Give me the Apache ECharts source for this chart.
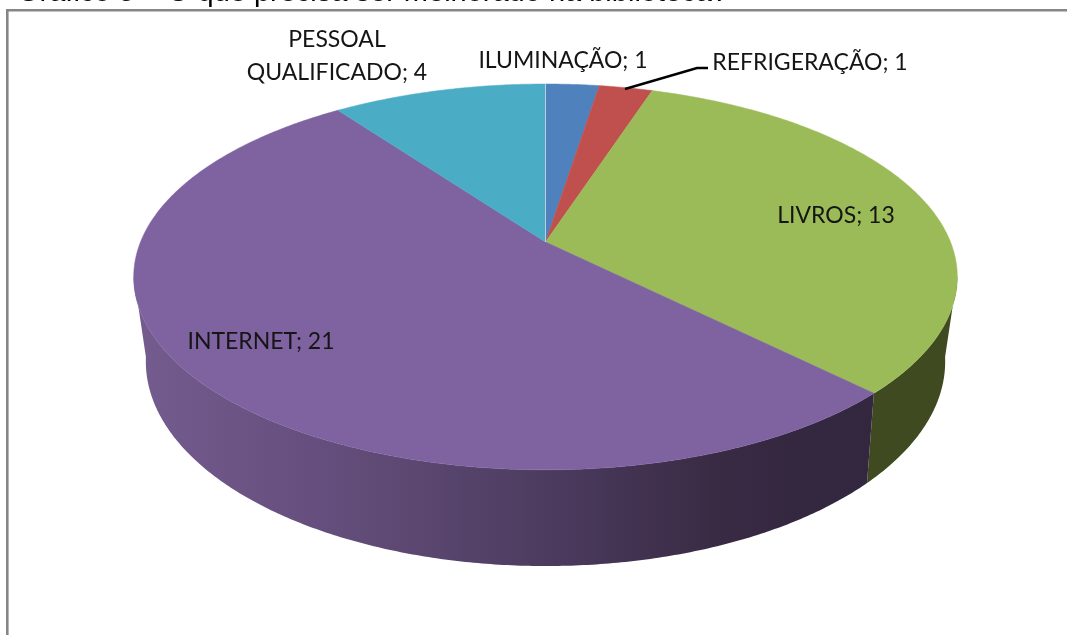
<!DOCTYPE html>
<html>
<head>
<meta charset="utf-8">
<style>
  html, body { margin: 0; padding: 0; background: #fff; }
  #chart { width: 1067px; height: 635px; }
</style>
<script src="https://cdn.jsdelivr.net/npm/echarts@6/dist/echarts.min.js"></script>
</head>
<body>
<div id="chart"></div>
<script>
// chart data
var categories = ["ILUMINAÇÃO", "REFRIGERAÇÃO", "LIVROS", "INTERNET", "PESSOAL\nQUALIFICADO"];
var values = [1, 1, 13, 21, 4];
var titleText = "Gráfico 5 – O que precisa ser melhorado na biblioteca?";

// slice colours: top face, then wall
var topColors = ["#4f81bd", "#c0504d", "#9bbb59", "#7f62a0", "#4bacc6"];
var wallColors = ["#2a4565", "#672a28", "#3f4a20", "#32273f", "#1f5c6c"];

// Perspective disc: top face and bottom face of the cylinder
var topDisc = { x: 545.5, y: 242, a: 186.6, b: 405, p: 0.181 };
var bottomDisc = { x: 545.5, y: 321.7, a: 196.7, b: 392, p: 0.195 };
var sideAngle = 100; // degrees, where the silhouette of the wall is

var labelPos = [[563, 61], [810, 63], [836, 216], [261, 342], [337, 56.5]];

var total = values.reduce(function (a, b) { return a + b; }, 0);
var sliceData = [];
var running = 0;
values.forEach(function (v, i) {
  sliceData.push([running, running + v, i]);
  running += v;
});

function project(disc, deg) {
  var t = deg * Math.PI / 180;
  var u = Math.sin(t), v = Math.cos(t);
  var w = 1 + disc.p * v;
  return [disc.x + disc.b * u / w, disc.y - disc.a * v / w];
}

function arc(disc, from, to) {
  var pts = [];
  var n = Math.max(2, Math.ceil(Math.abs(to - from) * 2));
  for (var i = 0; i <= n; i++) {
    pts.push(project(disc, from + (to - from) * i / n));
  }
  return pts;
}

// purple wall goes dark left to right
var purpleWall = new echarts.graphic.LinearGradient(134, 0, 960, 0, [
  { offset: 0, color: "#745d8e" },
  { offset: 0.2, color: "#675080" },
  { offset: 0.3, color: "#5f4a75" },
  { offset: 0.5, color: "#4c3b5f" },
  { offset: 0.7, color: "#3a2b45" },
  { offset: 0.8, color: "#342740" },
  { offset: 1, color: "#322840" }
], true);

function renderWall(params, api) {
  var from = api.value(0) / total * 360;
  var to = api.value(1) / total * 360;
  var i = api.value(2);
  // only the front of the wall shows
  var a = Math.max(from, sideAngle);
  var b = Math.min(to, 360 - sideAngle);
  if (a >= b) return null;
  var pts = arc(topDisc, a, b).concat(arc(bottomDisc, b, a));
  return {
    type: "polygon",
    shape: { points: pts },
    style: { fill: i === 3 ? purpleWall : wallColors[i] }
  };
}

function renderTop(params, api) {
  var from = api.value(0) / total * 360;
  var to = api.value(1) / total * 360;
  var i = api.value(2);
  var pts = [[topDisc.x, topDisc.y]].concat(arc(topDisc, from, to));
  var children = [
    {
      type: "polygon",
      shape: { points: pts },
      style: { fill: topColors[i], stroke: topColors[i], lineWidth: 0.5 }
    },
    {
      type: "text",
      z2: 10,
      x: labelPos[i][0],
      y: labelPos[i][1],
      style: {
        text: categories[i] + "; " + values[i],
        fill: "#151515",
        font: "23px Lato",
        lineHeight: 33,
        align: "center",
        verticalAlign: "middle"
      }
    }
  ];
  // thin light seam where the first slice starts
  if (i === 0) {
    children.splice(1, 0, {
      type: "polyline",
      z2: 5,
      shape: { points: [pts[0], pts[1]] },
      style: { stroke: "#b9cde6", lineWidth: 1, fill: "none" }
    });
  }
  return { type: "group", children: children };
}

var chart = echarts.init(document.getElementById("chart"), null, { renderer: "canvas" });

var option = {
  animation: false,
  backgroundColor: "#fff",
  graphic: [
    {
      type: "rect",
      silent: true,
      shape: { x: 7.3, y: 10.3, width: 1100, height: 660 },
      style: { fill: "#fff", stroke: "#868686", lineWidth: 2.6 },
      z: 0
    },
    {
      type: "text",
      x: 17,
      y: -22,
      style: { text: titleText, fill: "#000", font: "29px 'Liberation Sans'" },
      z: 1
    },
    {
      // leader line for the refrigeration label
      type: "polyline",
      shape: { points: [[625, 89], [697, 68], [708, 68]] },
      style: { stroke: "#000", lineWidth: 2.4, fill: "none" },
      z: 5
    }
  ],
  series: [
    { type: "custom", coordinateSystem: "none", renderItem: renderWall, data: sliceData, z: 2, silent: true },
    { type: "custom", coordinateSystem: "none", renderItem: renderTop, data: sliceData, z: 3, silent: true }
  ]
};

chart.setOption(option);
</script>
</body>
</html>
